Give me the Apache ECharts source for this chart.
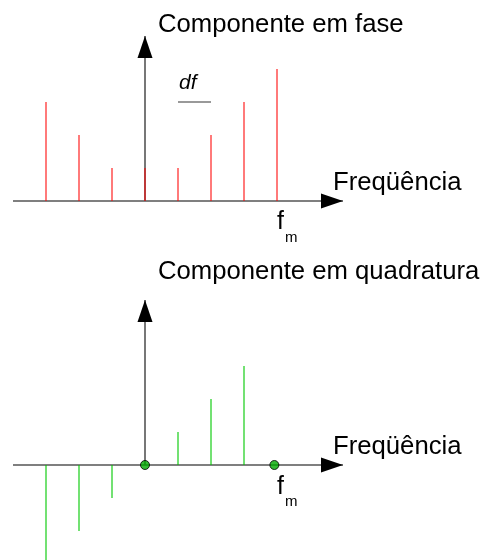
<!DOCTYPE html>
<html>
<head>
<meta charset="utf-8">
<script src="https://cdn.jsdelivr.net/npm/echarts@6/dist/echarts.min.js"></script>
<style>html,body{margin:0;padding:0;background:#fff;}#c{width:481px;height:560px;}</style>
</head>
<body>
<div id="c"></div>
<script>
// frequency positions (in units of df) and amplitudes
const freqs = [-3, -2, -1, 0, 1, 2, 3, 4];
const inPhase = [3, 2, 1, 1, 1, 2, 3, 4];
const quadFreqs = [-3, -2, -1, 1, 2, 3];
const quadrature = [-3, -2, -1, 1, 2, 3];
const quadZeros = [0, 3.92];
const xRange = [-4, 6];
const yRangeTop = [0, 5];
const yRangeBottom = [-3, 5];
const dfSpan = [1, 2];
const dfLevel = 3;
const titles = ['Componente em fase', 'Componente em quadratura'];
const xLabel = 'Freqüência';

const FONT = '"Liberation Sans", Arial, sans-serif';
const AXIS = '#555';

function axisSeries(gi, yTop) {
  return [
    {
      type: 'line', xAxisIndex: gi, yAxisIndex: gi, clip: false, z: 1,
      lineStyle: { color: AXIS, width: 1.6 }, itemStyle: { color: '#000' },
      data: [
        { value: [xRange[0], 0], symbol: 'none' },
        { value: [xRange[1], 0], symbol: 'triangle', symbolSize: [15, 22], symbolRotate: -90, symbolOffset: [-11, 0] }
      ]
    },
    {
      type: 'line', xAxisIndex: gi, yAxisIndex: gi, clip: false, z: 1,
      lineStyle: { color: AXIS, width: 1.6 }, itemStyle: { color: '#000' },
      data: [
        { value: [0, 0], symbol: 'none' },
        { value: [0, yTop], symbol: 'triangle', symbolSize: [15, 22], symbolOffset: [0, 11] }
      ]
    }
  ];
}

const chart = echarts.init(document.getElementById('c'), null, { renderer: 'canvas' });
const hiddenAxis = { show: false };
chart.setOption({
  animation: false,
  grid: [
    { left: 13, top: 36, width: 330, height: 165, containLabel: false, outerBoundsMode: 'none' },
    { left: 13, top: 300, width: 330, height: 264, containLabel: false, outerBoundsMode: 'none' }
  ],
  xAxis: [
    Object.assign({ type: 'value', gridIndex: 0, min: xRange[0], max: xRange[1] }, hiddenAxis),
    Object.assign({ type: 'value', gridIndex: 1, min: xRange[0], max: xRange[1] }, hiddenAxis)
  ],
  yAxis: [
    Object.assign({ type: 'value', gridIndex: 0, min: yRangeTop[0], max: yRangeTop[1] }, hiddenAxis),
    Object.assign({ type: 'value', gridIndex: 1, min: yRangeBottom[0], max: yRangeBottom[1] }, hiddenAxis)
  ],
  series: [
    ...axisSeries(0, yRangeTop[1]),
    ...axisSeries(1, yRangeBottom[1]),
    {
      type: 'line', xAxisIndex: 0, yAxisIndex: 0, symbol: 'none', z: 1,
      lineStyle: { color: '#777', width: 1.5 },
      data: dfSpan.map(v => [v, dfLevel])
    },
    {
      type: 'bar', xAxisIndex: 0, yAxisIndex: 0, barWidth: 2, z: 3,
      itemStyle: { color: 'rgba(255,0,0,0.52)' },
      data: freqs.map((f, i) => [f, inPhase[i]])
    },
    {
      type: 'bar', xAxisIndex: 1, yAxisIndex: 1, barWidth: 2, z: 3,
      itemStyle: { color: 'rgba(0,200,0,0.55)' },
      data: quadFreqs.map((f, i) => [f, quadrature[i]])
    },
    {
      type: 'scatter', xAxisIndex: 1, yAxisIndex: 1, symbolSize: 9, z: 4,
      itemStyle: { color: '#0a0', borderColor: '#000', borderWidth: 1 },
      data: quadZeros.map(f => [f, 0])
    }
  ],
  graphic: [
    { type: 'text', x: 158, y: 24.5, style: { text: titles[0], font: '25.7px ' + FONT, fill: '#000', verticalAlign: 'middle' } },
    { type: 'text', x: 158, y: 272, style: { text: titles[1], font: '25.7px ' + FONT, fill: '#000', verticalAlign: 'middle' } },
    { type: 'text', x: 333, y: 183, style: { text: xLabel, font: '25.7px ' + FONT, fill: '#000', verticalAlign: 'middle' } },
    { type: 'text', x: 333, y: 446.5, style: { text: xLabel, font: '25.7px ' + FONT, fill: '#000', verticalAlign: 'middle' } },
    { type: 'text', x: 179, y: 83, style: { text: 'df', font: 'italic 21px ' + FONT, fill: '#000', verticalAlign: 'middle' } },
    { type: 'text', x: 277, y: 222, style: { text: 'f', font: '25px ' + FONT, fill: '#000', verticalAlign: 'middle' } },
    { type: 'text', x: 285, y: 238, style: { text: 'm', font: '15px ' + FONT, fill: '#000', verticalAlign: 'middle' } },
    { type: 'text', x: 277, y: 487, style: { text: 'f', font: '25px ' + FONT, fill: '#000', verticalAlign: 'middle' } },
    { type: 'text', x: 285, y: 502, style: { text: 'm', font: '15px ' + FONT, fill: '#000', verticalAlign: 'middle' } }
  ]
});
</script>
</body>
</html>
